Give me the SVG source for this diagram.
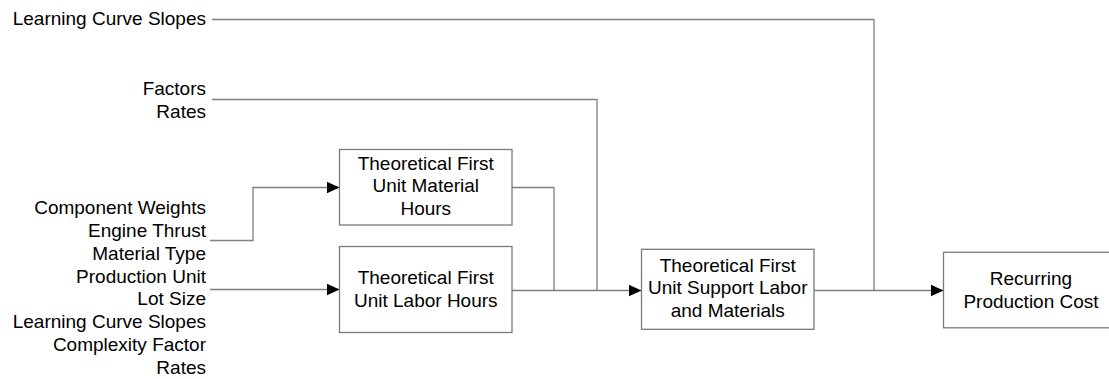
<svg xmlns="http://www.w3.org/2000/svg" width="1109" height="379" viewBox="0 0 1109 379">
<style>
  .lbl { font-family: "Liberation Sans", Arial, sans-serif; font-size: 19px; fill: #000; }
  .end { text-anchor: end; }
  .mid { text-anchor: middle; }
  .box { fill: #fff; stroke: #7a7a7a; stroke-width: 1.3; }
  .wire { fill: none; stroke: #7f7f7f; stroke-width: 1.3; }
</style>
<defs>
  <marker id="arr" markerUnits="userSpaceOnUse" markerWidth="14" markerHeight="14" viewBox="0 0 14 14" refX="13" refY="7" orient="auto">
    <path d="M0,1 L13,7 L0,13 Z" fill="#000"/>
  </marker>
</defs>
<rect width="1109" height="379" fill="#fff"/>

<g id="inputs">
  <text class="lbl end" x="206" y="25">Learning Curve Slopes</text>
  <text class="lbl end" x="206" y="95">Factors</text>
  <text class="lbl end" x="206" y="117.8">Rates</text>
  <text class="lbl end" x="206" y="214.2">Component Weights</text>
  <text class="lbl end" x="206" y="237">Engine Thrust</text>
  <text class="lbl end" x="206" y="259.8">Material Type</text>
  <text class="lbl end" x="206" y="282.6">Production Unit</text>
  <text class="lbl end" x="206" y="305.4">Lot Size</text>
  <text class="lbl end" x="206" y="328.2">Learning Curve Slopes</text>
  <text class="lbl end" x="206" y="351">Complexity Factor</text>
  <text class="lbl end" x="206" y="373.8">Rates</text>
</g>

<g id="connectors">
  <path class="wire" d="M212,19.5 H874 V290.5"/>
  <path class="wire" d="M212,99.5 H597 V290.5"/>
  <path class="wire" d="M210,240.5 H253 V187.5 H339.5" marker-end="url(#arr)"/>
  <path class="wire" d="M210,289.5 H339.5" marker-end="url(#arr)"/>
  <path class="wire" d="M512,187.5 H554 V290.5"/>
  <path class="wire" d="M512,290.5 H641.5" marker-end="url(#arr)"/>
  <path class="wire" d="M814,290.5 H943.5" marker-end="url(#arr)"/>
</g>

<g id="material-hours">
  <rect class="box" x="339.5" y="149.5" width="172.5" height="75.5"/>
  <text class="lbl mid" x="425.75" y="169.5">Theoretical First</text>
  <text class="lbl mid" x="425.75" y="192.3">Unit Material</text>
  <text class="lbl mid" x="425.75" y="215.1">Hours</text>
</g>

<g id="labor-hours">
  <rect class="box" x="339.5" y="246.5" width="172.5" height="86"/>
  <text class="lbl mid" x="425.75" y="284">Theoretical First</text>
  <text class="lbl mid" x="425.75" y="306.8">Unit Labor Hours</text>
</g>

<g id="support-labor">
  <rect class="box" x="641.5" y="249.3" width="172.5" height="80"/>
  <text class="lbl mid" x="727.75" y="271.5">Theoretical First</text>
  <text class="lbl mid" x="727.75" y="294.3">Unit Support Labor</text>
  <text class="lbl mid" x="727.75" y="317.1">and Materials</text>
</g>

<g id="recurring-cost">
  <rect class="box" x="943.5" y="252.3" width="175" height="75.5"/>
  <text class="lbl mid" x="1031" y="285">Recurring</text>
  <text class="lbl mid" x="1031" y="307.5">Production Cost</text>
</g>
</svg>
